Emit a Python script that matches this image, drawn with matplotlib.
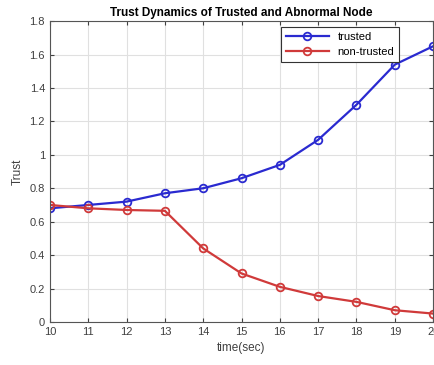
import numpy as np
import matplotlib.pyplot as plt

plt.rcParams['font.family'] = ['Liberation Sans', 'DejaVu Sans']

# data
time_sec = [10, 11, 12, 13, 14, 15, 16, 17, 18, 19, 20]
trusted = [0.68, 0.70, 0.72, 0.77, 0.80, 0.86, 0.94, 1.09, 1.30, 1.54, 1.65]
non_trusted = [0.70, 0.68, 0.67, 0.665, 0.44, 0.29, 0.21, 0.155, 0.12, 0.07, 0.05]

fig = plt.figure(figsize=(4.34, 3.65), dpi=100)
ax = fig.add_axes([0.115, 0.118, 0.883, 0.824])

ax.plot(time_sec, trusted, color='#2a2ad0', marker='o', mfc='none', mew=1.3,
        ms=5.5, lw=1.6, label='trusted')
ax.plot(time_sec, non_trusted, color='#d03a3a', marker='o', mfc='none', mew=1.3,
        ms=5.5, lw=1.6, label='non-trusted')

ax.set_xlim(10, 20)
ax.set_ylim(0, 1.8)
ax.set_xticks(time_sec)
ax.set_yticks(np.arange(0, 1.81, 0.2))
ax.set_yticklabels(['0', '0.2', '0.4', '0.6', '0.8', '1', '1.2', '1.4', '1.6', '1.8'])
ax.tick_params(labelsize=8, colors='#404040', direction='in', length=3, top=True, right=True)
ax.grid(True, color='#e0e0e0', lw=0.8)
for s in ax.spines.values():
    s.set_color('#555555')
    s.set_linewidth(0.8)

ax.set_xlabel('time(sec)', fontsize=8.5, color='#404040')
ax.set_ylabel('Trust', fontsize=8.5, color='#404040')
ax.set_title('Trust Dynamics of Trusted and Abnormal Node', fontsize=8.5,
             fontweight='bold', pad=4)

leg = ax.legend(loc='upper right', bbox_to_anchor=(0.926, 1.0), fontsize=8,
                fancybox=False, edgecolor='#333333', framealpha=1,
                handlelength=3.8, borderpad=0.45, labelspacing=0.45)
leg.get_frame().set_linewidth(0.8)

fig.savefig('out.png', dpi=100)
